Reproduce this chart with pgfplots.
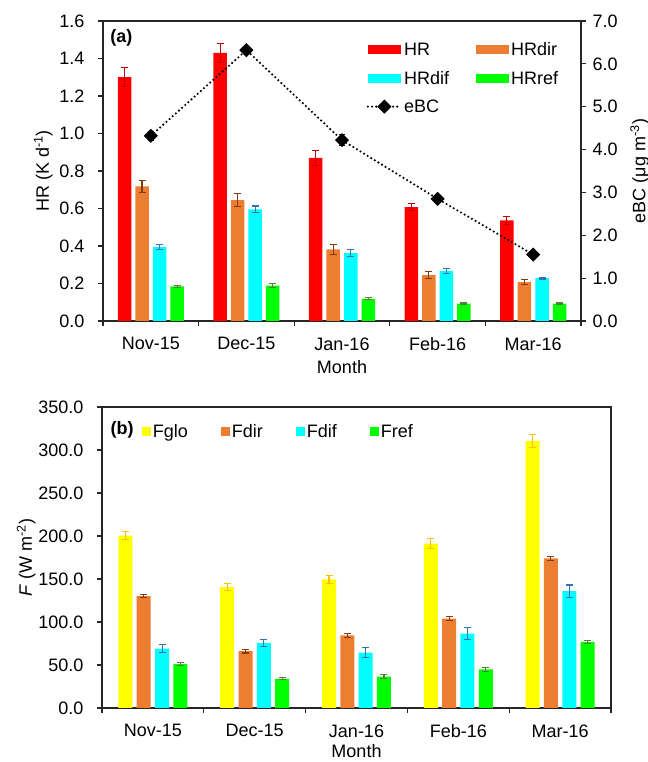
\documentclass[border=0pt]{standalone}
\usepackage{pgfplots}
\usepackage{pgfplotstable}
\pgfplotsset{compat=1.18}
\usepackage{fontspec}
\setmainfont{Liberation Sans}

\definecolor{cHR}{HTML}{FF0000}
\definecolor{cHRe}{HTML}{C00000}
\definecolor{cDir}{HTML}{ED7D31}
\definecolor{cDire}{HTML}{843C0C}
\definecolor{cDif}{HTML}{00FFFF}
\definecolor{cDife}{HTML}{2E75B6}
\definecolor{cRef}{HTML}{00FF00}
\definecolor{cRefe}{HTML}{548235}
\definecolor{cGlo}{HTML}{FFFF00}
\definecolor{cGloe}{HTML}{FFC000}

\newcommand\fs{\fontsize{18bp}{21bp}\selectfont}

\pgfplotsset{
  barleg/.style={legend image code/.code={\fill[##1] (0bp,-4.5bp) rectangle (33bp,4.5bp);}},
  sqleg/.style={legend image code/.code={\fill[##1] (0bp,-4.5bp) rectangle (9bp,4.5bp);}},
  ebcleg/.style={legend image code/.code={%
      \draw[mark repeat=2,mark phase=2,##1] plot coordinates {(0bp,0bp) (16.5bp,0bp) (33bp,0bp)};}},
  % bars are placed at their own x position (month index plus offset)
  mybar/.style n args={3}{ybar, bar width=#3, bar shift=0pt, fill=#1, draw=none,
    /pgfplots/error bars/y dir=both, /pgfplots/error bars/y explicit,
    /pgfplots/error bars/error bar style={color=#2, line width=1.1bp, solid},
    /pgfplots/error bars/error mark options={rotate=90, mark size=3.5bp, line width=1.1bp, color=#2}},
  common/.style={
    scale only axis, anchor=south west,
    xmin=-0.5, xmax=4.5,
    axis line style={line width=1.2bp, black!85},
    every tick/.style={line width=1.2bp, black!85},
    tick align=outside,
    major tick length=5bp, minor tick length=5bp,
    /pgf/number format/assume math mode=true,
    every tick label/.append style={font=\fs},
    label style={font=\fs},
    yticklabel style={/pgf/number format/.cd, fixed, fixed zerofill, precision=1},
  },
}

% monthly heating rates (K/d) and eBC mass concentration (ug/m3)
\pgfplotstableread{
x  HR    HRe   dir   dire  dif   dife  ref   refe  eBC  eBCe
0  1.300 0.050 0.718 0.033 0.395 0.012 0.185 0.006 4.32 0.10
1  1.430 0.050 0.645 0.034 0.595 0.018 0.188 0.010 6.32 0.05
2  0.870 0.040 0.382 0.027 0.362 0.017 0.118 0.005 4.22 0.12
3  0.607 0.020 0.245 0.020 0.267 0.012 0.092 0.004 2.85 0.06
4  0.537 0.020 0.207 0.012 0.229 0.005 0.092 0.004 1.55 0.05
}\hrdata

% monthly radiative fluxes (W/m2)
\pgfplotstableread{
x  glo    gloe dir   dire dif   dife ref  refe
0  200.5  5.0  130.0 2.0  69.0  4.5  51.0 1.5
1  140.5  4.0  66.0  2.0  75.5  4.0  34.0 1.0
2  149.5  4.5  84.5  2.5  64.5  6.0  36.5 2.0
3  191.0  6.0  104.0 2.5  86.5  7.0  45.0 2.5
4  310.5  7.5  174.0 2.5  136.0 7.0  77.0 2.0
}\fdata

\begin{document}
\begin{tikzpicture}[x=1bp,y=1bp]
\useasboundingbox (0,0) rectangle (648,762);

% ---------- panel (a) ----------
\begin{axis}[common,
  at={(103bp,441bp)}, width=478bp, height=300bp,
  ymin=0, ymax=1.6,
  ytick={0,0.2,0.4,0.6,0.8,1.0,1.2,1.4,1.6},
  yticklabel shift=10bp,
  xtick={0,1,2,3,4},
  xticklabels={Nov-15,Dec-15,Jan-16,Feb-16,Mar-16},
  xticklabel shift=8bp,
  minor xtick={-0.5,0.5,1.5,2.5,3.5,4.5},
  major x tick style={draw=none},
  tick pos=left,
  xlabel={Month},
  xlabel style={yshift=-3bp},
  ylabel={HR (K d\textsuperscript{-1})},
  ybar legend/.style={barleg},
  legend columns=2,
  legend cell align=left,
  legend style={draw=none, fill=none, font=\fs, at={(0.545,0.942)}, anchor=north west,
    row sep=10bp,
    /tikz/every even column/.append style={column sep=25bp}},
]
\addplot[mybar={cHR}{cHRe}{13.5bp}, barleg]
  table[x expr=\thisrow{x}-0.275, y=HR, y error=HRe] {\hrdata};
\addlegendentry{HR}
\addplot[mybar={cDir}{cDire}{13.5bp}, barleg]
  table[x expr=\thisrow{x}-0.092, y=dir, y error=dire] {\hrdata};
\addlegendentry{HRdir}
\addplot[mybar={cDif}{cDife}{13.5bp}, barleg]
  table[x expr=\thisrow{x}+0.092, y=dif, y error=dife] {\hrdata};
\addlegendentry{HRdif}
\addplot[mybar={cRef}{cRefe}{13.5bp}, barleg]
  table[x expr=\thisrow{x}+0.275, y=ref, y error=refe] {\hrdata};
\addlegendentry{HRref}
\addlegendimage{ebcleg, black, line width=2.4bp, line cap=round, dash pattern=on 0bp off 4.2bp,
  mark=square*, mark size=3.8bp, mark options={solid, rotate=45, fill=black}}
\addlegendentry{eBC}
\node[font=\fs\bfseries, anchor=west] at (rel axis cs:0.008,0.943) {(a)};
\end{axis}

\begin{axis}[common,
  at={(103bp,441bp)}, width=478bp, height=300bp,
  ymin=0, ymax=7,
  ytick={0,1,2,3,4,5,6,7},
  yticklabel shift=3bp,
  axis y line*=right, axis x line=none,
  ylabel={eBC (μg m\textsuperscript{-3})},
  ylabel style={yshift=-6bp},
]
\addplot[black, line width=2.4bp, line cap=round, dash pattern=on 0bp off 4.2bp,
  mark=square*, mark size=3.8bp, mark options={solid, rotate=45, fill=black},
  error bars/y dir=both, error bars/y explicit,
  error bars/error bar style={solid, line width=1bp, black},
  error bars/error mark options={rotate=90, mark size=3bp, line width=1bp, black}]
  table[x=x, y=eBC, y error=eBCe] {\hrdata};
\end{axis}

% ---------- panel (b) ----------
\begin{axis}[common,
  at={(102bp,54bp)}, width=509bp, height=301bp,
  ymin=0, ymax=350,
  ytick={0,50,100,150,200,250,300,350},
  yticklabel shift=10bp,
  xtick={0,1,2,3,4},
  xticklabels={Nov-15,Dec-15,Jan-16,Feb-16,Mar-16},
  xticklabel shift=8bp,
  minor xtick={-0.5,0.5,1.5,2.5,3.5,4.5},
  major x tick style={draw=none},
  tick pos=left,
  xlabel={Month},
  ylabel={\textit{F} (W m\textsuperscript{-2})},
  ylabel style={yshift=-4bp},
  ybar legend/.style={sqleg},
  legend columns=4,
  legend style={draw=none, fill=none, font=\fs, at={(0.072,0.917)}, anchor=west,
    /tikz/every even column/.append style={column sep=31bp}},
]
\addplot[mybar={cGlo}{cGloe}{14bp}, sqleg]
  table[x expr=\thisrow{x}-0.27, y=glo, y error=gloe] {\fdata};
\addlegendentry{Fglo}
\addplot[mybar={cDir}{cDire}{14bp}, sqleg]
  table[x expr=\thisrow{x}-0.09, y=dir, y error=dire] {\fdata};
\addlegendentry{Fdir}
\addplot[mybar={cDif}{cDife}{14bp}, sqleg]
  table[x expr=\thisrow{x}+0.09, y=dif, y error=dife] {\fdata};
\addlegendentry{Fdif}
\addplot[mybar={cRef}{cRefe}{14bp}, sqleg]
  table[x expr=\thisrow{x}+0.27, y=ref, y error=refe] {\fdata};
\addlegendentry{Fref}
\node[font=\fs\bfseries, anchor=west] at (rel axis cs:0.01,0.924) {(b)};
\end{axis}
\end{tikzpicture}
\end{document}
